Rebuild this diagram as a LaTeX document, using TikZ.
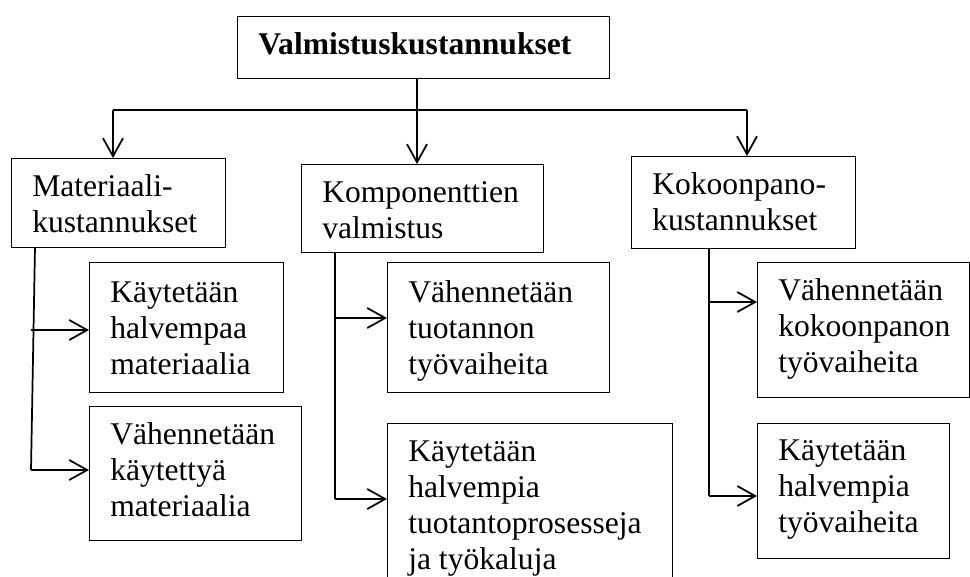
\documentclass[tikz,border=0pt]{standalone}
\usepackage{fontspec}
\setmainfont{Liberation Serif}
\usetikzlibrary{arrows.meta}
\begin{document}
\begin{tikzpicture}[x=0.75pt,y=-0.75pt,
  box/.style 2 args={draw, line width=0.9pt, anchor=north west, inner sep=0pt,
    minimum width={0.75*#1}, minimum height={0.75*#2}},
  txt/.style={anchor=base west, inner sep=0pt, font=\fontsize{23.7}{27}\selectfont},
  conn/.style={line width=1.3pt},
  arr/.style={conn, -{Straight Barb[length=13.5pt,width=15pt]}}]
\useasboundingbox (0,0) rectangle (970,577);
\clip (0,0) rectangle (970,577);
% boxes
\node[box={372}{62}] (T) at (237,16) {};
\node[box={214}{89}] (M) at (11,158) {};
\node[box={242}{88}] (K) at (301,164) {};
\node[box={224}{92}] (P) at (631,156) {};
\node[box={194}{130}] (M1) at (89,262) {};
\node[box={212}{134}] (M2) at (89,406) {};
\node[box={222}{130}] (K1) at (387,262) {};
\node[box={285}{180}] (K2) at (387,423) {};
\node[box={212}{135}] (P1) at (757,262) {};
\node[box={192}{135}] (P2) at (757,423) {};
% texts
\node[txt] (Tt) at (258,55) {\bfseries Valmistuskustannukset};
\node[txt] (Mt) at (32,197) {\parbox[t]{8cm}{\raggedright Materiaali-\\kustannukset}};
\node[txt] (Kt) at (322,203) {\parbox[t]{8cm}{\raggedright Komponenttien\\valmistus}};
\node[txt] (Pt) at (652,195) {\parbox[t]{8cm}{\raggedright Kokoonpano-\\kustannukset}};
\node[txt] (M1t) at (110,302) {\parbox[t]{8cm}{\raggedright Käytetään\\halvempaa\\materiaalia}};
\node[txt] (M2t) at (110,444) {\parbox[t]{8cm}{\raggedright Vähennetään\\käytettyä\\materiaalia}};
\node[txt] (K1t) at (408,302) {\parbox[t]{8cm}{\raggedright Vähennetään\\tuotannon\\työvaiheita}};
\node[txt] (K2t) at (408,461) {\parbox[t]{8cm}{\raggedright Käytetään\\halvempia\\tuotantoprosesseja\\ja työkaluja}};
\node[txt] (P1t) at (778,300) {\parbox[t]{8cm}{\raggedright Vähennetään\\kokoonpanon\\työvaiheita}};
\node[txt] (P2t) at (778,460) {\parbox[t]{8cm}{\raggedright Käytetään\\halvempia\\työvaiheita}};
% bus
\coordinate (bus) at (417,110);
\coordinate (busL) at (113,110);
\coordinate (busR) at (747,110);
\draw[conn] (T.south -| bus) -- (bus);
\draw[conn] (busL) -- (busR);
\draw[arr] (busL) -- (busL |- M.north);
\draw[arr] (bus) -- (bus |- K.north);
\draw[arr] (busR) -- (busR |- P.north);
% left branch
\coordinate (mA) at (35,247);
\coordinate (mB) at (31,470);
\coordinate (m1) at (31,330);
\draw[conn] (mA) -- (mB);
\draw[arr] (m1) -- (m1 -| M1.west);
\draw[arr] (mB) -- (mB -| M2.west);
% middle branch
\coordinate (kA) at (335,252);
\coordinate (kB) at (335,499);
\coordinate (k1) at (335,318);
\draw[conn] (kA) -- (kB);
\draw[arr] (k1) -- (k1 -| K1.west);
\draw[arr] (kB) -- (kB -| K2.west);
% right branch
\coordinate (pA) at (709,248);
\coordinate (pB) at (709,496);
\coordinate (p1) at (709,302);
\draw[conn] (pA) -- (pB);
\draw[arr] (p1) -- (p1 -| P1.west);
\draw[arr] (pB) -- (pB -| P2.west);
\end{tikzpicture}
\end{document}
